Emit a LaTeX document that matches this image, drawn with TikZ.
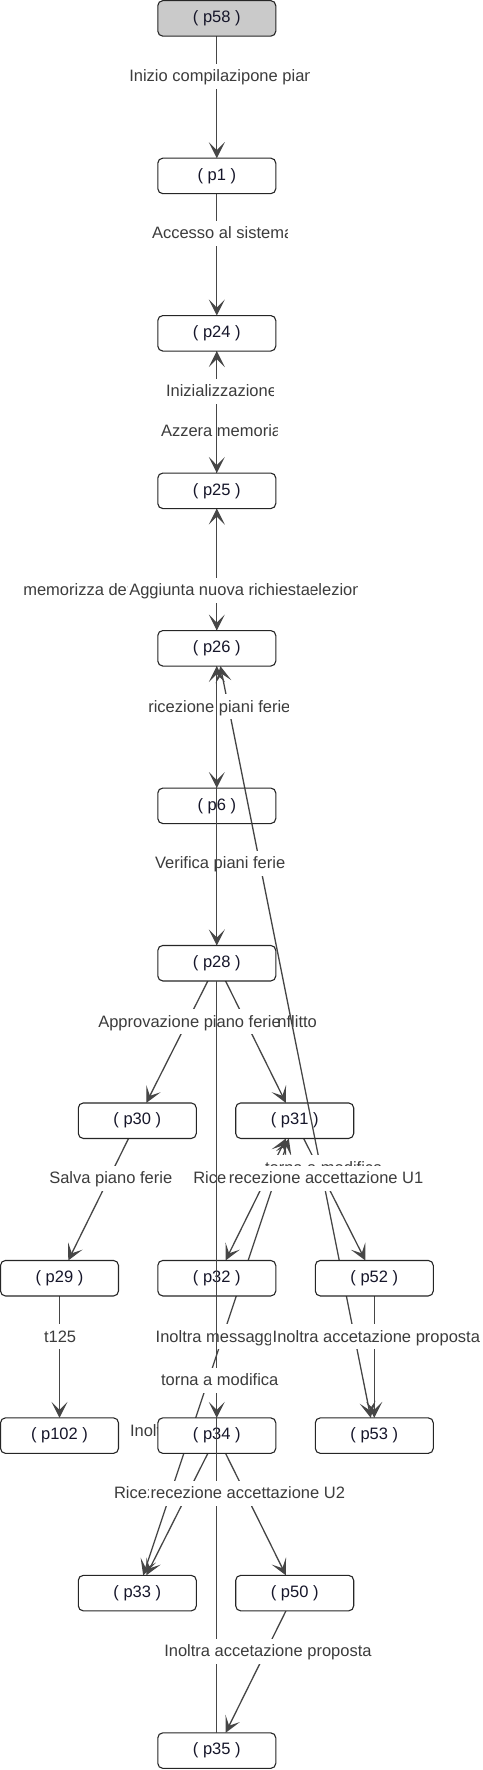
\documentclass[tikz,border=0pt]{standalone}
\usepackage{fontspec}
\setmainfont{Liberation Sans}
\usetikzlibrary{arrows.meta,calc}
\pgfdeclarelayer{bg}
\pgfdeclarelayer{fg}
\pgfsetlayers{bg,main,fg}
\definecolor{edc}{HTML}{464646}
\definecolor{labc}{HTML}{3C3C3C}
\definecolor{nodec}{HTML}{262626}
\definecolor{ntc}{HTML}{16162A}
\definecolor{startc}{HTML}{CACACA}
\tikzset{
  pnode/.style={draw=nodec, line width=1.1pt, fill=white, rounded corners=5pt,
    minimum width=118pt, minimum height=35.5pt, inner sep=0pt, outer sep=0pt,
    font=\fontsize{16.5}{19}\selectfont, text=ntc},
  startnode/.style={pnode, fill=startc},
  ed/.style={draw=edc, line width=1.3pt},
  lab/.style={font=\fontsize{16.5}{19}\selectfont, text=labc, inner sep=0pt, outer sep=0pt},
  >={Stealth[length=16pt,width=16pt,inset=8pt]}
}
% clipped label: name, text left x, clip right x, centre y, text
\newcommand\lbl[5]{%
  \begin{scope}
    \clip (#2-2,#4-12.5) rectangle (#3,#4+12.5);
    \fill[white] (#2-2,#4-12.5) rectangle (#3,#4+12.5);
    \node[lab,anchor=base west] (#1) at (#2,#4+5.8) {#5};
  \end{scope}}
% unclipped label with white box up to x
\newcommand\lbln[5]{%
  \fill[white] (#2-2,#4-12.5) rectangle (#3,#4+12.5);
  \node[lab,anchor=base west] (#1) at (#2,#4+5.8) {#5};}
\begin{document}
\begin{tikzpicture}[x=1pt,y=-1pt]
\useasboundingbox (0,0) rectangle (482,1770);
% nodes
\node[startnode] (p58) at (216.8,18.4) {( p58 )};
\node[pnode] (p1)  at (216.8,175.9) {( p1 )};
\node[pnode] (p24) at (216.8,333.3) {( p24 )};
\node[pnode] (p25) at (216.8,490.8) {( p25 )};
\node[pnode] (p26) at (216.8,648.3) {( p26 )};
\node[pnode] (p6)  at (216.8,805.8) {( p6 )};
\node[pnode] (p28) at (216.8,963.2) {( p28 )};
\node[pnode] (p30) at (137.3,1120.7) {( p30 )};
\node[pnode] (p31) at (294.7,1120.7) {( p31 )};
\node[pnode] (p29) at (59.5,1278.2) {( p29 )};
\node[pnode] (p32) at (216.8,1278.2) {( p32 )};
\node[pnode] (p52) at (374.3,1278.2) {( p52 )};
\node[pnode] (p102) at (59.5,1435.6) {( p102 )};
\node[pnode] (p34) at (216.8,1435.6) {( p34 )};
\node[pnode] (p53) at (374.3,1435.6) {( p53 )};
\node[pnode] (p33) at (137.3,1593.1) {( p33 )};
\node[pnode] (p50) at (294.7,1593.1) {( p50 )};
\node[pnode] (p35) at (216.8,1750.6) {( p35 )};

\begin{pgfonlayer}{bg}
\draw[ed,->] (p58) -- (p1);
\lbl{l1}{129.3}{309.3}{76}{Inizio compilazipone pian}
\draw[ed,->] (p1) -- (p24);
\lbl{l2}{152}{287.5}{233}{Accesso al sistema}
\draw[ed,->] (p24) -- (p25);
\lbl{l3}{161}{277}{431}{Azzera memoria}
\draw[ed,->] (p25) -- (p24);
\lbl{l4}{166}{273}{391}{Inizializzazione}
\draw[ed,->] (p26) -- (p25);
\lbl{l5}{23.3}{200}{590}{memorizza det}
\lbl{l6}{301}{357}{590}{selezion}
\draw[ed,->] (p25) -- (p26);
\lbl{l7}{129.3}{310.5}{590}{Aggiunta nuova richiesta}
\draw[ed,->] (p28) -- (p30);
\draw[ed,->] (p28) -- (p31);
\lbl{l10}{260}{320}{1021.5}{conflitto}
\lbln{l11}{98.3}{278}{1021.5}{Approvazione piano ferie}
\draw[ed,<->] (p26) -- (p53);
\draw[ed,->] (p26) -- (p6);
\lbl{l8}{148.3}{288.3}{706.5}{ricezione piani ferie}
\draw[ed,->] (p6) -- (p28);
\lbl{l9}{155}{285}{863}{Verifica piani ferie}
\draw[ed,->] (p30) -- (p29);
\lbl{l12}{49.3}{172}{1178}{Salva piano ferie}
\draw[ed,->] (p29) -- (p102);
\lbl{l16}{44}{78}{1336.7}{t125}
\draw[ed,<->] (p31) -- (p33);
\draw[ed,<->] (p31) -- (p32);
\draw[ed,->] (p31) -- (p52);
\lbl{l15}{265}{385}{1167.6}{torna a modifica}
\lbl{l13}{193.3}{240}{1178}{Ricezione}
\lbl{l14}{228.9}{425}{1178}{recezione accettazione U1}
\lbl{l17}{155.7}{275}{1336.7}{Inoltra messaggio}
\draw[ed,->] (p52) -- (p53);
\lbl{l18}{272.7}{482}{1336.7}{Inoltra accetazione proposta}
\lbl{l20}{130}{200}{1431}{Inoltra}
\draw[ed,->] (p34) -- (p33);
\draw[ed,->] (p34) -- (p50);
\draw[ed,->] (p50) -- (p35);
\end{pgfonlayer}

\begin{pgfonlayer}{fg}
\draw[ed] ($(p26)!0.1774!(p53)$) -- ($(p26)!0.2225!(p53)$);
\draw[ed] ($(p26)!0.5775!(p53)$) -- ($(p26)!0.6226!(p53)$);
\draw[ed,->] (p28) -- (p26);
\draw[ed] (p28) -- (p35);
\draw[ed,->] (p32) -- (p34);
\lbl{l19}{161}{280}{1380}{torna a modifica}
\lbl{l21}{114}{160}{1493}{Ricezione}
\lbl{l22}{150.6}{350}{1493}{recezione accettazione U2}
\lbl{l23}{164.3}{380}{1651}{Inoltra accetazione proposta}
\end{pgfonlayer}
\end{tikzpicture}
\end{document}
